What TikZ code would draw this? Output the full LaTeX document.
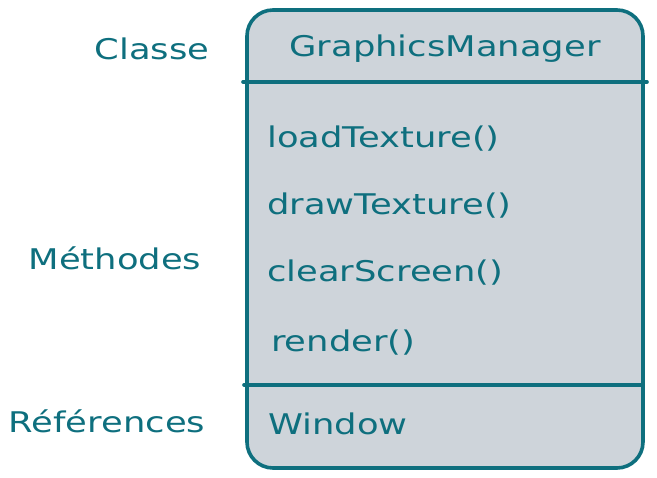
\documentclass[tikz,border=0pt]{standalone}
\usepackage{fontspec}
\setmainfont{DejaVu Sans}[FakeStretch=1.24]
\definecolor{tealink}{HTML}{0E6F7E}
\definecolor{boxfill}{HTML}{CED4DA}
\tikzset{
  lbl/.style={text=tealink, font=\fontsize{28.5}{31}\selectfont, inner sep=0pt},
  umlbox/.style={draw=tealink, fill=boxfill, line width=3.6pt, rounded corners=26pt, inner sep=0pt},
  divider/.style={draw=tealink, line width=3.6pt, line cap=round}
}
\begin{document}
\begin{tikzpicture}[x=1pt,y=-1pt]
\useasboundingbox (0,0) rectangle (657,478);
\node[umlbox, minimum width=396pt, minimum height=458pt] (box) at (445,239) {};
\coordinate (d1l) at (243,82);
\coordinate (d1r) at (647,82);
\coordinate (d2l) at (244,385);
\coordinate (d2r) at (643,385);
\draw[divider] (d1l) -- (d1r);
\draw[divider] (d2l) -- (d2r);
\node[lbl, anchor=base] (title) at (445,57) {GraphicsManager};
\node[lbl, anchor=base west] (m1) at (267,148) {loadTexture()};
\node[lbl, anchor=base west] (m2) at (267,215) {drawTexture()};
\node[lbl, anchor=base west] (m3) at (267,282) {clearScreen()};
\node[lbl, anchor=base west] (m4) at (271,352) {render()};
\node[lbl, anchor=base west] (ref) at (268,435) {Window};
\node[lbl, anchor=base] (classe) at (152,60) {Classe};
\node[lbl, anchor=base] (meth) at (115,270) {Méthodes};
\node[lbl, anchor=base] (refs) at (107,433) {Références};
\end{tikzpicture}
\end{document}
